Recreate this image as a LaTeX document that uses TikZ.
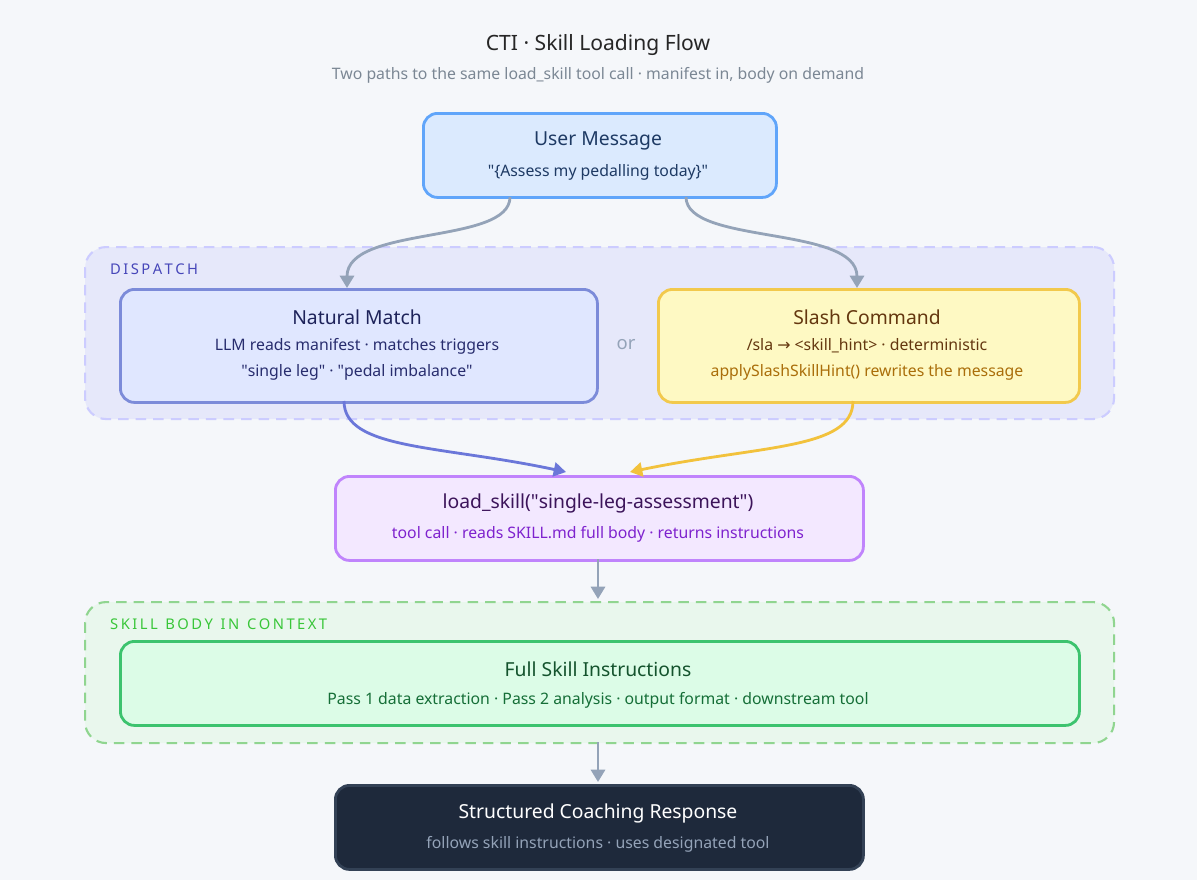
\documentclass[tikz,border=0pt]{standalone}
\usepackage{fontspec}
\setmainfont{Noto Sans}
\newfontfamily\djv{DejaVu Sans}
\usetikzlibrary{arrows.meta}
\definecolor{bg}{HTML}{F5F7FA}
\definecolor{gr}{HTML}{94A3B8}
\definecolor{sub}{HTML}{7B8794}
\definecolor{bluearr}{RGB}{107,119,217}
\definecolor{yelarr}{RGB}{242,194,60}
\newcommand{\q}{\textquotedbl}
\begin{document}
\begin{tikzpicture}[x=0.02cm,y=-0.02cm,
  box/.style={draw, rounded corners=8pt, line width=1.6pt, anchor=north west},
  region/.style={draw, dashed, rounded corners=12pt, line width=1.2pt, dash pattern=on 6pt off 4pt, anchor=north west},
  ttl/.style={font=\fontsize{11}{13}\selectfont},
  sm/.style={font=\fontsize{9}{11}\selectfont},
  lbl/.style={font=\fontsize{8.4}{10}\selectfont, anchor=west},
  arr/.style={line width=1.6pt, -{Triangle[length=7pt,width=8pt]}}]
\fill[bg] (0,0) rectangle (1197,880);
\useasboundingbox (0,0) rectangle (1197,880);
\node[font=\fontsize{12}{14}\selectfont, text=black!85] (title) at (598,45) {CTI · Skill Loading Flow};
\node[sm, text=sub] (subtitle) at (598,75) {Two paths to the same load\_skill tool call · manifest in, body on demand};
% regions
\node[region, draw=blue!20, fill=blue!6!bg, minimum width=1029*0.02cm, minimum height=172*0.02cm] (dispatch) at (84,246) {};
\node[lbl, text=blue!45!gray] (dl) at (104,269) {D\,I\,S\,P\,A\,T\,C\,H};
\node[region, draw=green!45!gray!60, fill=green!5!bg, minimum width=1029*0.02cm, minimum height=141*0.02cm] (body) at (84,601) {};
\node[lbl, text=green!55!gray] (bl) at (104,624) {S\,K\,I\,L\,L \ B\,O\,D\,Y \ I\,N \ C\,O\,N\,T\,E\,X\,T};
% boxes
\node[box, draw={rgb,255:red,96;green,165;blue,250}, fill={rgb,255:red,219;green,234;blue,254}, minimum width=353*0.02cm, minimum height=84*0.02cm] (user) at (422,112) {};
\node[ttl, text={rgb,255:red,30;green,58;blue,100}] (ut) at (598,141) {User Message};
\node[sm, text={rgb,255:red,30;green,58;blue,100}] (us) at (598,172) {\q\{Assess my pedalling today\}\q};
\node[box, draw={rgb,255:red,124;green,139;blue,217}, fill={rgb,255:red,224;green,231;blue,255}, minimum width=477*0.02cm, minimum height=113*0.02cm] (nat) at (119,288) {};
\node[ttl, text={rgb,255:red,30;green,35;blue,90}] (nt) at (357,317) {Natural Match};
\node[sm, text={rgb,255:red,40;green,45;blue,110}] (n1) at (357,346) {LLM reads manifest · matches triggers};
\node[sm, text={rgb,255:red,40;green,45;blue,110}] (n2) at (357,372) {\q single leg\q{} · \q pedal imbalance\q};
\node[font=\fontsize{10.5}{12}\selectfont, text=gr] (or) at (626,345) {or};
\node[box, draw={rgb,255:red,242;green,201;blue,76}, fill={rgb,255:red,254;green,249;blue,195}, minimum width=421*0.02cm, minimum height=113*0.02cm] (slash) at (657,288) {};
\node[ttl, text={rgb,255:red,100;green,55;blue,15}] (st) at (867,317) {Slash Command};
\node[sm, text={rgb,255:red,100;green,55;blue,15}] (s1) at (867,346) {/sla {\djv →} <skill\_hint> · deterministic};
\node[sm, text={rgb,255:red,170;green,110;blue,10}] (s2) at (867,372) {applySlashSkillHint() rewrites the message};
\node[box, draw={rgb,255:red,192;green,132;blue,252}, fill={rgb,255:red,243;green,232;blue,255}, minimum width=528*0.02cm, minimum height=84*0.02cm] (load) at (334,475) {};
\node[ttl, text={rgb,255:red,60;green,20;blue,90}] (lt) at (598,503) {load\_skill(\q single-leg-assessment\q)};
\node[sm, text={rgb,255:red,126;green,34;blue,206}] (ls) at (598,534) {tool call · reads SKILL.md full body · returns instructions};
\node[box, draw={rgb,255:red,60;green,195;blue,110}, fill={rgb,255:red,220;green,252;blue,231}, minimum width=959*0.02cm, minimum height=84*0.02cm] (full) at (119,640) {};
\node[ttl, text={rgb,255:red,20;green,83;blue,45}] (ft) at (598,669) {Full Skill Instructions};
\node[sm, text={rgb,255:red,21;green,110;blue,55}] (fs) at (598,700) {Pass 1 data extraction · Pass 2 analysis · output format · downstream tool};
\node[box, draw={rgb,255:red,51;green,65;blue,85}, fill={rgb,255:red,30;green,41;blue,59}, minimum width=528*0.02cm, minimum height=84*0.02cm] (resp) at (334,784) {};
\node[ttl, text=white] (rt) at (598,813) {Structured Coaching Response};
\node[sm, text=gr] (rs) at (598,844) {follows skill instructions · uses designated tool};
% coordinates
\coordinate (u1) at (510,197); \coordinate (u2) at (686,197);
\coordinate (n0) at (347,288); \coordinate (s0) at (857,288);
\coordinate (nb) at (344,401); \coordinate (sb) at (853,401);
\coordinate (l1) at (566,472); \coordinate (l2) at (630,472);
\coordinate (lb) at (598,559); \coordinate (bt) at (598,599);
\coordinate (bb) at (598,742); \coordinate (rtop) at (598,782);
\draw[arr, gr] (u1) .. controls (510,245) and (347,225) .. (n0);
\draw[arr, gr] (u2) .. controls (686,245) and (857,225) .. (s0);
\draw[arr, bluearr] (nb) .. controls (344,450) and (440,445) .. (l1);
\draw[arr, yelarr] (sb) .. controls (853,450) and (760,445) .. (l2);
\draw[arr, gr] (lb) -- (bt);
\draw[arr, gr] (bb) -- (rtop);
\end{tikzpicture}
\end{document}
